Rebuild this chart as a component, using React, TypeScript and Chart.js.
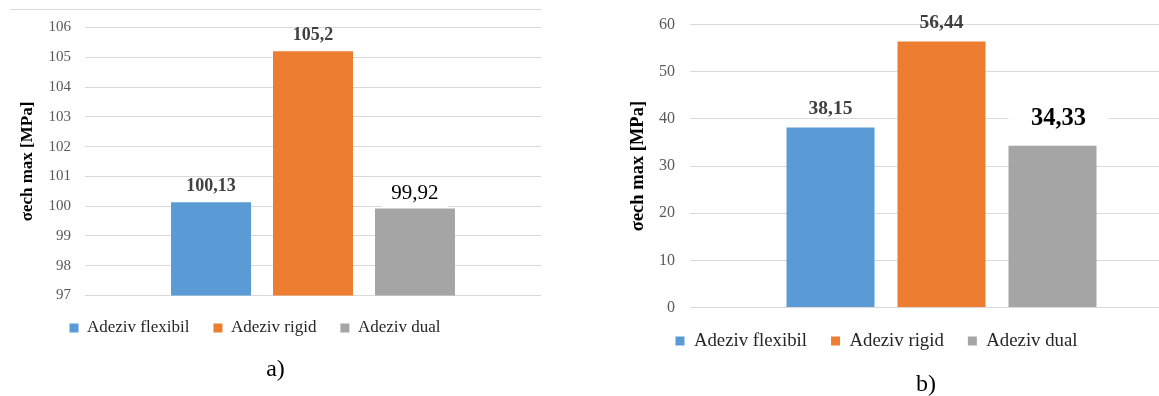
import React, { useEffect, useRef } from 'react';
import { Chart, registerables } from 'chart.js';

Chart.register(...registerables);

const SERIF = '"Liberation Serif", "Times New Roman", serif';

// Series shared by both panels
const seriesNames = ['Adeziv flexibil', 'Adeziv rigid', 'Adeziv dual'];
const seriesColors = ['#5b9bd5', '#ed7d31', '#a5a5a5'];
const categories = [''];

// Panel a) values and axis
const valuesA = [100.13, 105.2, 99.92];
const axisA = { min: 97, max: 106, step: 1 };

// Panel b) values and axis
const valuesB = [38.15, 56.44, 34.33];
const axisB = { min: 0, max: 60, step: 10 };

const axisTitle = 'σech max [MPa]';
const captions = ['a)', 'b)'];

type LabelStyle = {
  size: number;
  bold: boolean;
  color: string;
  gap: number;
  dx?: number;
  box?: [number, number];
};

// Draws the value above each bar, with an optional white backing box
const valueLabels = {
  id: 'valueLabels',
  afterDatasetsDraw(chart: any, _args: any, opts: any) {
    const ctx = chart.ctx;
    const styles: LabelStyle[] = opts.styles || [];
    chart.data.datasets.forEach((ds: any, i: number) => {
      const meta = chart.getDatasetMeta(i);
      const bar = meta.data[0];
      const st = styles[i];
      if (!bar || !st) return;
      const text = String(ds.data[0]).replace('.', ',');
      const x = bar.x + (st.dx || 0);
      const y = bar.y - st.gap;
      ctx.save();
      if (st.box) {
        ctx.fillStyle = '#ffffff';
        ctx.fillRect(x - st.box[0] / 2, y - st.box[1] / 2, st.box[0], st.box[1]);
      }
      ctx.font = `${st.bold ? 'bold ' : ''}${st.size}px ${SERIF}`;
      ctx.fillStyle = st.color;
      ctx.textAlign = 'center';
      ctx.textBaseline = 'middle';
      ctx.fillText(text, x, y);
      ctx.restore();
    });
  },
};

type PanelSpec = {
  values: number[];
  axis: { min: number; max: number; step: number };
  padTop: number;
  padBottom: number;
  axisWidth: number;
  tickPad: number;
  tickSize: number;
  titleSize: number;
  titlePad: number;
  legendSize: number;
  legendPad: number;
  catPct: number;
  barPct: number;
  labels: LabelStyle[];
};

function buildConfig(p: PanelSpec): any {
  return {
    type: 'bar',
    data: {
      labels: categories,
      datasets: seriesNames.map((name, i) => ({
        label: name,
        data: [p.values[i]],
        backgroundColor: seriesColors[i],
        borderWidth: 0,
        categoryPercentage: p.catPct,
        barPercentage: p.barPct,
      })),
    },
    options: {
      responsive: false,
      animation: false,
      devicePixelRatio: 1,
      layout: { padding: { top: p.padTop, bottom: p.padBottom, left: 0, right: 0 } },
      scales: {
        x: { display: false },
        y: {
          min: p.axis.min,
          max: p.axis.max,
          afterFit: (scale: any) => {
            scale.width = p.axisWidth;
          },
          ticks: {
            stepSize: p.axis.step,
            padding: p.tickPad,
            color: '#595959',
            font: { family: SERIF, size: p.tickSize },
          },
          grid: { color: '#d9d9d9', lineWidth: 1, drawTicks: false },
          border: { display: false },
          title: {
            display: true,
            text: axisTitle,
            color: '#000000',
            font: { family: SERIF, size: p.titleSize, weight: 'bold' },
            padding: { top: p.titlePad, bottom: 0 },
          },
        },
      },
      plugins: {
        legend: {
          position: 'bottom',
          labels: {
            boxWidth: 9,
            boxHeight: 9,
            padding: p.legendPad,
            color: '#262626',
            font: { family: SERIF, size: p.legendSize },
          },
        },
        tooltip: { enabled: false },
        valueLabels: { styles: p.labels },
      },
    },
    plugins: [valueLabels],
  };
}

const panelA: PanelSpec = {
  values: valuesA,
  axis: axisA,
  padTop: 27.5,
  padBottom: 49.5,
  axisWidth: 116,
  tickPad: 14,
  tickSize: 15,
  titleSize: 17,
  titlePad: 48.8,
  legendSize: 17,
  legendPad: 24,
  catPct: 0.671,
  barPct: 0.784,
  labels: [
    { size: 18, bold: true, color: '#404040', gap: 16 },
    { size: 18, bold: true, color: '#404040', gap: 16 },
    { size: 21, bold: false, color: '#000000', gap: 15, box: [66, 27] },
  ],
};

const panelB: PanelSpec = {
  values: valuesB,
  axis: axisB,
  padTop: 22,
  padBottom: 35.7,
  axisWidth: 130,
  tickPad: 15,
  tickSize: 16,
  titleSize: 18.5,
  titlePad: 66.9,
  legendSize: 18.8,
  legendPad: 24,
  catPct: 0.662,
  barPct: 0.793,
  labels: [
    { size: 19.5, bold: true, color: '#404040', gap: 18.4 },
    { size: 19.5, bold: true, color: '#404040', gap: 18.4 },
    { size: 24.5, bold: true, color: '#000000', gap: 27, dx: 6, box: [100, 28] },
  ],
};

function Panel({ spec, left, width }: { spec: PanelSpec; left: number; width: number }) {
  const ref = useRef<HTMLCanvasElement | null>(null);
  useEffect(() => {
    if (!ref.current) return;
    const chart = new Chart(ref.current, buildConfig(spec));
    return () => chart.destroy();
  }, [spec]);
  return (
    <canvas
      ref={ref}
      width={width}
      height={396}
      style={{ position: 'absolute', left, top: 0, width, height: 396, display: 'block' }}
    />
  );
}

const captionStyle = (cx: number, cy: number): React.CSSProperties => ({
  position: 'absolute',
  left: cx - 50,
  top: cy - 14,
  width: 100,
  lineHeight: '28px',
  textAlign: 'center',
  fontFamily: SERIF,
  fontSize: 24,
  color: '#000000',
});

export default function App() {
  return (
    <div
      style={{
        position: 'fixed',
        left: 0,
        top: 0,
        width: 1159,
        height: 396,
        overflow: 'hidden',
        background: '#ffffff',
      }}
    >
      <div style={{ position: 'absolute', left: 10, top: 9, width: 531, height: 1, background: '#d9d9d9' }} />
      <Panel spec={panelA} left={-31} width={572} />
      <Panel spec={panelB} left={560} width={633} />
      <div style={captionStyle(275.5, 368)}>{captions[0]}</div>
      <div style={captionStyle(926, 383)}>{captions[1]}</div>
    </div>
  );
}
